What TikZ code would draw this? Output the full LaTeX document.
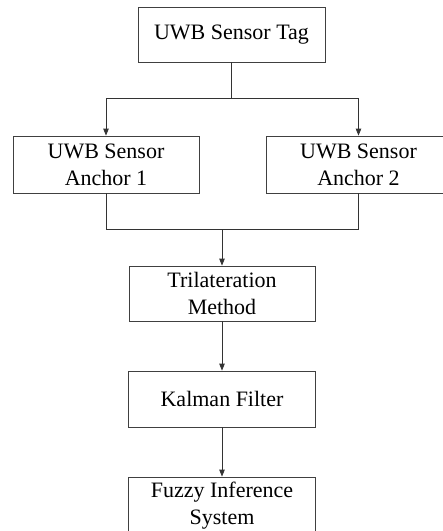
\documentclass[tikz,border=0pt]{standalone}
\usepackage{fontspec}
\setmainfont{Liberation Serif}
\usetikzlibrary{arrows.meta}
\begin{document}
\begin{tikzpicture}[x=1pt,y=-1pt,
  box/.style={draw=black!75, line width=0.8pt, fill=white, align=center,
    inner sep=0pt, font=\fontsize{22}{27}\selectfont},
  flow/.style={draw=black!80, line width=0.8pt,
    -{Triangle[length=7pt,width=5.5pt]}},
  link/.style={draw=black!80, line width=0.8pt}]
\useasboundingbox (0,0) rectangle (443,531);
\clip (0,0) rectangle (443,531);
% processing blocks
\node[box, minimum width=187pt, minimum height=55pt] (tag) at (231.5,34.5) {UWB Sensor Tag};
\node[box, minimum width=186pt, minimum height=57pt] (a1) at (106,164.5) {UWB Sensor\\Anchor 1};
\node[box, minimum width=185pt, minimum height=57pt] (a2) at (358.5,164.5) {UWB Sensor\\Anchor 2};
\node[box, minimum width=186pt, minimum height=55pt] (tri) at (222,293.5) {Trilateration\\Method};
\node[box, minimum width=186.5pt, minimum height=56pt] (kal) at (222,399) {Kalman Filter};
\node[box, minimum width=187pt, minimum height=57pt] (fuz) at (222,505.5) {Fuzzy Inference\\System};
% branch and merge points
\coordinate (split) at (tag.south |- 0,98);
\coordinate (merge) at (tri.north |- 0,229.3);
% connectors
\draw[link] (tag.south) -- (split);
\draw[flow] (split) -| (a1.north);
\draw[flow] (split) -| (a2.north);
\draw[link] (a1.south) |- (merge);
\draw[link] (a2.south) |- (merge);
\draw[flow] (merge) -- (tri.north);
\draw[flow] (tri.south) -- (kal.north);
\draw[flow] (kal.south) -- (fuz.north);
\end{tikzpicture}
\end{document}
